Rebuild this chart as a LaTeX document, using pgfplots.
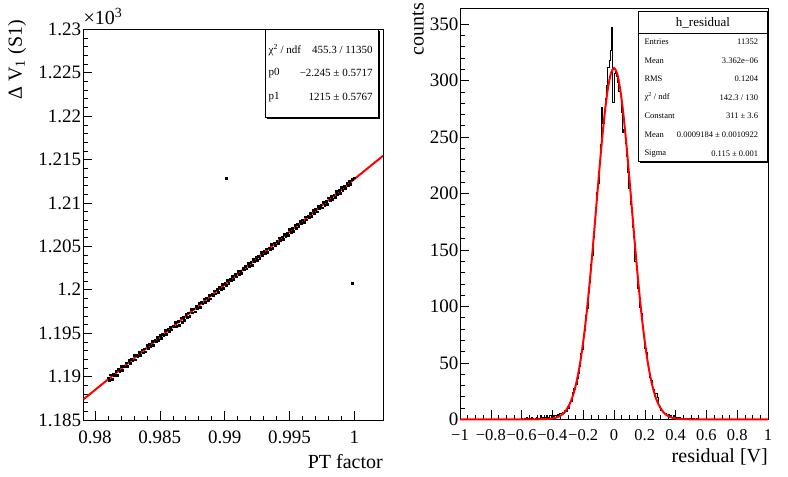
\documentclass[border=0pt]{standalone}
\usepackage{fontspec}
\setmainfont{Liberation Serif}
\usepackage{pgfplots}
\pgfplotsset{compat=1.18}
\newcommand{\fs}[1]{\fontsize{#1}{#1}\selectfont}
\begin{document}
\begin{tikzpicture}
\useasboundingbox (0pt,0pt) rectangle (788pt,477pt);
% ---------------- left panel ----------------
\begin{axis}[
  at={(83.3pt,57pt)}, anchor=south west, scale only axis,
  width=299.7pt, height=390.7pt,
  xmin=0.9791, xmax=1.0022, ymin=1.185, ymax=1.23,
  scaled ticks=false,
  xtick={0.98,0.985,0.99,0.995,1},
  xticklabels={0.98,0.985,0.99,0.995,1},
  ytick={1.185,1.19,1.195,1.2,1.205,1.21,1.215,1.22,1.225,1.23},
  yticklabels={1.185,1.19,1.195,1.2,1.205,1.21,1.215,1.22,1.225,1.23},
  minor x tick num=4, minor y tick num=4,
  tick align=inside, tick pos=left,
  major tick length=9pt, minor tick length=4.5pt,
  tick style={black, line width=0.6pt},
  axis line style={line width=0.8pt},
  xticklabel style={font=\fs{19}, inner sep=0pt, yshift=-11pt},
  yticklabel style={font=\fs{19}, inner sep=0pt, xshift=-2pt},
  xlabel={PT factor},
  xlabel style={at={(axis description cs:1,-0.1229)}, anchor=base east, inner sep=0pt, font=\fs{20}},
  ylabel={Δ V\textsubscript{1} (S1)},
  ylabel style={at={(axis description cs:-0.221,1.0238)}, anchor=east, inner sep=0pt, font=\fs{20}},
]
\addplot[only marks, mark=square*, mark size=0.9pt, black] coordinates {
(0.9810,1.18987) (0.9812,1.19021) (0.9814,1.19028) (0.9816,1.19065) (0.9818,1.19082)
(0.9820,1.19121) (0.9822,1.19123) (0.9824,1.19159) (0.9826,1.19189) (0.9828,1.19201)
(0.9830,1.19245) (0.9832,1.19246) (0.9834,1.19279) (0.9836,1.19309) (0.9838,1.19321)
(0.9840,1.19362) (0.9842,1.19374) (0.9844,1.19404) (0.9846,1.19415) (0.9848,1.19456)
(0.9850,1.19473) (0.9852,1.19490) (0.9854,1.19531) (0.9856,1.19543) (0.9858,1.19572)
(0.9860,1.19587) (0.9862,1.19625) (0.9864,1.19642) (0.9866,1.19678) (0.9868,1.19686)
(0.9870,1.19718) (0.9872,1.19736) (0.9874,1.19773) (0.9876,1.19781) (0.9878,1.19813)
(0.9880,1.19843) (0.9882,1.19857) (0.9884,1.19896) (0.9886,1.19908) (0.9888,1.19938)
(0.9890,1.19950) (0.9892,1.19990) (0.9894,1.20008) (0.9896,1.20026) (0.9898,1.20065)
(0.9900,1.20078) (0.9902,1.20108) (0.9904,1.20121) (0.9906,1.20159) (0.9908,1.20177)
(0.9910,1.20213) (0.9912,1.20219) (0.9914,1.20253) (0.9916,1.20272) (0.9918,1.20307)
(0.9920,1.20316) (0.9922,1.20349) (0.9924,1.20377) (0.9926,1.20391) (0.9928,1.20431)
(0.9930,1.20443) (0.9932,1.20472) (0.9934,1.20485) (0.9936,1.20525) (0.9938,1.20542)
(0.9940,1.20561) (0.9942,1.20600) (0.9944,1.20612) (0.9946,1.20642) (0.9948,1.20656)
(0.9950,1.20694) (0.9952,1.20711) (0.9954,1.20748) (0.9956,1.20754) (0.9958,1.20787)
(0.9960,1.20807) (0.9962,1.20842) (0.9964,1.20850) (0.9966,1.20883) (0.9968,1.20912)
(0.9970,1.20926) (0.9972,1.20965) (0.9974,1.20978) (0.9976,1.21007) (0.9978,1.21019)
(0.9980,1.21060) (0.9982,1.21077) (0.9984,1.21095) (0.9986,1.21134) (0.9988,1.21147)
(0.9990,1.21177) (0.9992,1.21190) (0.9994,1.21229) (0.9996,1.21246) (0.9998,1.21273)
(1.0000,1.21291)
(0.9811,1.18959) (0.9813,1.18974) (0.9815,1.19013) (0.9817,1.19017) (0.9819,1.19058)
(0.9821,1.19076) (0.9823,1.19113) (0.9825,1.19119) (0.9827,1.19154) (0.9829,1.19182)
(0.9831,1.19194) (0.9833,1.19234) (0.9835,1.19247) (0.9837,1.19276) (0.9839,1.19287)
(0.9841,1.19330) (0.9843,1.19346) (0.9845,1.19365) (0.9847,1.19405) (0.9849,1.19421)
(0.9851,1.19439) (0.9853,1.19475) (0.9855,1.19484) (0.9857,1.19520) (0.9859,1.19539)
(0.9861,1.19574) (0.9863,1.19576) (0.9865,1.19593) (0.9867,1.19630) (0.9869,1.19646)
(0.9871,1.19683) (0.9873,1.19693) (0.9875,1.19735) (0.9877,1.19748) (0.9879,1.19787)
(0.9881,1.19803) (0.9883,1.19840) (0.9885,1.19854) (0.9887,1.19884) (0.9889,1.19897)
(0.9891,1.19938) (0.9893,1.19954) (0.9895,1.19974) (0.9897,1.20009) (0.9899,1.20019)
(0.9901,1.20055) (0.9903,1.20074) (0.9905,1.20109) (0.9907,1.20119) (0.9909,1.20150)
(0.9911,1.20178) (0.9913,1.20191) (0.9915,1.20230) (0.9917,1.20243) (0.9919,1.20272)
(0.9921,1.20285) (0.9923,1.20326) (0.9925,1.20342) (0.9927,1.20363) (0.9929,1.20401)
(0.9931,1.20417) (0.9933,1.20437) (0.9935,1.20471) (0.9937,1.20480) (0.9939,1.20516)
(0.9941,1.20536) (0.9943,1.20570) (0.9945,1.20579) (0.9947,1.20613) (0.9949,1.20632)
(0.9951,1.20666) (0.9953,1.20675) (0.9955,1.20712) (0.9957,1.20731) (0.9959,1.20765)
(0.9961,1.20775) (0.9963,1.20806) (0.9965,1.20835) (0.9967,1.20846) (0.9969,1.20881)
(0.9971,1.20900) (0.9973,1.20935) (0.9975,1.20946) (0.9977,1.20977) (0.9979,1.20989)
(0.9981,1.21031) (0.9983,1.21047) (0.9985,1.21068) (0.9987,1.21103) (0.9989,1.21114)
(0.9991,1.21148) (0.9993,1.21168) (0.9995,1.21203) (0.9997,1.21219)
(0.99013,1.21287) (0.99985,1.20078)
};
\addplot[red, line width=2pt] coordinates {(0.9791,1.187362) (1.0022,1.215428)};
\end{axis}
% ---------------- right panel ----------------
\begin{axis}[
  at={(460pt,57.7pt)}, anchor=south west, scale only axis,
  width=308pt, height=411pt,
  xmin=-1, xmax=1, ymin=0, ymax=364,
  clip=false, scaled ticks=false,
  xtick={-1,-0.8,-0.6,-0.4,-0.2,0,0.2,0.4,0.6,0.8,1},
  xticklabels={−1,−0.8,−0.6,−0.4,−0.2,0,0.2,0.4,0.6,0.8,1},
  ytick={0,50,100,150,200,250,300,350},
  yticklabels={0,50,100,150,200,250,300,350},
  minor x tick num=3, minor y tick num=4,
  tick align=inside, tick pos=left,
  major tick length=9pt, minor tick length=4.5pt,
  tick style={black, line width=0.6pt},
  axis line style={line width=0.8pt},
  xticklabel style={font=\fs{16.5}, inner sep=0pt, yshift=-10.5pt},
  yticklabel style={font=\fs{19}, inner sep=0pt, xshift=-1.5pt},
  xlabel={residual [V]},
  xlabel style={at={(axis description cs:1,-0.1063)}, anchor=base east, inner sep=0pt, font=\fs{20}},
  ylabel={counts},
  ylabel style={at={(axis description cs:-0.136,1.0129)}, anchor=east, inner sep=0pt, font=\fs{20}},
]
\addplot[const plot, black, line width=1pt] coordinates {
(-1,0)
(-0.600,1) (-0.592,0) (-0.584,1) (-0.576,0) (-0.568,2) (-0.560,1) (-0.552,0) (-0.544,1)
(-0.536,2) (-0.528,1) (-0.520,0) (-0.512,1) (-0.504,2) (-0.496,1) (-0.488,1) (-0.480,3)
(-0.472,1) (-0.464,2) (-0.456,1) (-0.448,2) (-0.440,3) (-0.432,1) (-0.424,2) (-0.416,3)
(-0.408,2) (-0.400,3) (-0.392,2) (-0.384,3) (-0.376,2) (-0.368,4) (-0.360,3) (-0.352,5)
(-0.344,4) (-0.336,6) (-0.328,5) (-0.320,8) (-0.312,7) (-0.304,11) (-0.296,10) (-0.288,15)
(-0.280,16) (-0.272,24) (-0.264,27) (-0.256,26) (-0.248,31) (-0.240,36) (-0.232,41) (-0.224,47)
(-0.216,58) (-0.208,62) (-0.200,73) (-0.192,79) (-0.184,92) (-0.176,98) (-0.168,112) (-0.160,121)
(-0.152,137) (-0.144,145) (-0.136,161) (-0.128,175) (-0.120,184) (-0.112,201) (-0.104,209) (-0.096,228)
(-0.088,243) (-0.080,276) (-0.072,262) (-0.064,272) (-0.056,284) (-0.048,296) (-0.040,312) (-0.032,318)
(-0.024,327) (-0.016,347) (-0.008,281) (0.000,306) (0.008,309) (0.016,304) (0.024,298) (0.032,290)
(0.040,286) (0.048,272) (0.056,254) (0.064,257) (0.072,244) (0.080,233) (0.088,219) (0.096,204)
(0.104,190) (0.112,184) (0.120,170) (0.128,161) (0.136,140) (0.144,132) (0.152,116) (0.160,113)
(0.168,99) (0.176,94) (0.184,80) (0.192,75) (0.200,63) (0.208,59) (0.216,49) (0.224,45)
(0.232,37) (0.240,34) (0.248,27) (0.256,26) (0.264,20) (0.272,23) (0.280,19) (0.288,12)
(0.296,11) (0.304,8) (0.312,7) (0.320,6) (0.328,5) (0.336,5) (0.344,3) (0.352,4)
(0.360,2) (0.368,3) (0.376,2) (0.384,3) (0.392,2) (0.400,1) (0.408,2) (0.416,1)
(0.424,2) (0.432,1) (0.440,1) (0.448,0) (0.456,1) (0.464,0) (0.472,1) (0.480,0)
(0.488,1) (0.496,0) (0.504,0) (0.512,1) (0.520,0) (0.528,0) (0.536,1) (0.544,0)
(1,0)
};
\addplot[red, line width=2pt, smooth] coordinates {
(-1,0) (-0.6,0) (-0.5,0.03) (-0.46,0.10) (-0.44,0.21) (-0.42,0.39) (-0.40,0.73)
(-0.38,1.3) (-0.36,2.3) (-0.34,3.9) (-0.32,6.5) (-0.30,10.4) (-0.28,16.0) (-0.26,24.1)
(-0.24,35.2) (-0.22,49.9) (-0.20,68.6) (-0.18,91.4) (-0.16,118.1) (-0.14,148.2)
(-0.12,180.4) (-0.10,213.1) (-0.08,244.2) (-0.06,271.4) (-0.04,292.7) (-0.02,306.3)
(0,311) (0.02,306.3) (0.04,292.7) (0.06,271.4) (0.08,244.2) (0.10,213.1) (0.12,180.4)
(0.14,148.2) (0.16,118.1) (0.18,91.4) (0.20,68.6) (0.22,49.9) (0.24,35.2) (0.26,24.1)
(0.28,16.0) (0.30,10.4) (0.32,6.5) (0.34,3.9) (0.36,2.3) (0.38,1.3) (0.40,0.73)
(0.42,0.39) (0.44,0.21) (0.46,0.10) (0.5,0.03) (0.6,0) (1,0)
};
\end{axis}
% ---------------- decorations ----------------
\node[anchor=base west, inner sep=0pt, font=\fs{20}] at (83.3pt,452pt) {×10\textsuperscript{3}};
% left stats box
\fill[black] (267pt,358pt) rectangle (380.3pt,445.7pt);
\filldraw[fill=white, draw=black, line width=0.8pt] (265pt,360pt) rectangle (378.3pt,447.7pt);
\begin{scope}[every node/.style={inner sep=0pt, font=\fs{11}}]
\node[anchor=west] at (268.5pt,427pt) {χ\textsuperscript{2} / ndf};
\node[anchor=east] at (372.7pt,427pt) {455.3 / 11350};
\node[anchor=west] at (268.5pt,403.7pt) {p0};
\node[anchor=east] at (372.7pt,403.7pt) {−2.245 ± 0.5717};
\node[anchor=west] at (268.5pt,379.7pt) {p1};
\node[anchor=east] at (372.7pt,379.7pt) {1215 ± 0.5767};
\end{scope}
% right stats box
\fill[black] (640pt,313.6pt) rectangle (769.4pt,463.6pt);
\filldraw[fill=white, draw=black, line width=0.8pt] (638.3pt,315.3pt) rectangle (767.7pt,465.3pt);
\draw[line width=0.8pt] (638.3pt,443.7pt) -- (767.7pt,443.7pt);
\node[inner sep=0pt, font=\fs{13}] at (703pt,454.3pt) {h\_residual};
\begin{scope}[every node/.style={inner sep=0pt, font=\fs{8.5}}]
\node[anchor=west] at (644.3pt,435.3pt) {Entries};
\node[anchor=east] at (758.3pt,435.3pt) {11352};
\node[anchor=west] at (644.3pt,416.3pt) {Mean};
\node[anchor=east] at (758.3pt,416.3pt) {3.362e−06};
\node[anchor=west] at (644.3pt,398.3pt) {RMS};
\node[anchor=east] at (758.3pt,398.3pt) {0.1204};
\node[anchor=west] at (644.3pt,379.7pt) {χ\textsuperscript{2} / ndf};
\node[anchor=east] at (758.3pt,379.7pt) {142.3 / 130};
\node[anchor=west] at (644.3pt,361.7pt) {Constant};
\node[anchor=east] at (758.3pt,361.7pt) {311 ± 3.6};
\node[anchor=west] at (644.3pt,342.7pt) {Mean};
\node[anchor=east] at (758.3pt,342.7pt) {0.0009184 ± 0.0010922};
\node[anchor=west] at (644.3pt,323.7pt) {Sigma};
\node[anchor=east] at (758.3pt,323.7pt) {0.115 ± 0.001};
\end{scope}
\end{tikzpicture}
\end{document}
